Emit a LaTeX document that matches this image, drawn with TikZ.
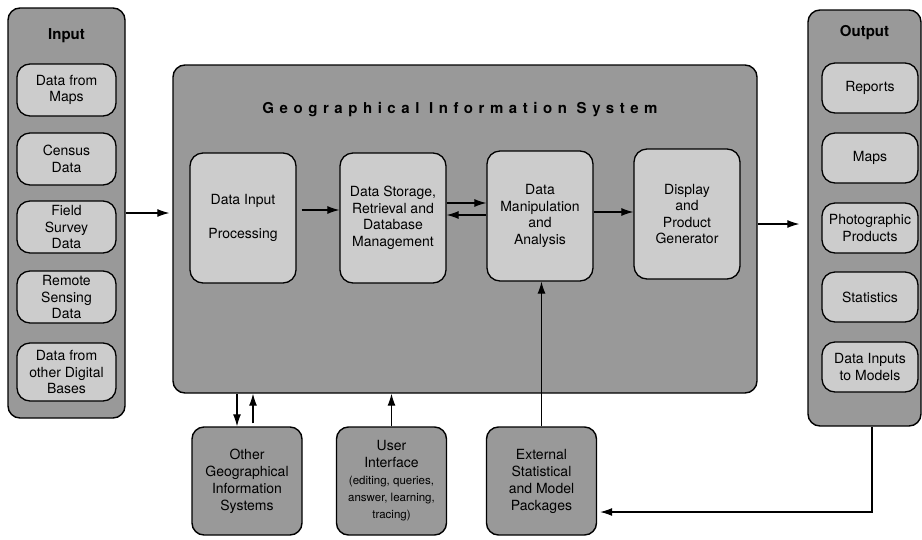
\documentclass[tikz,border=0pt]{standalone}
\usepackage{fontspec}
\setmainfont{TeX Gyre Heros}
\newfontfamily\spacedfont[LetterSpace=37]{TeX Gyre Heros}
\usetikzlibrary{arrows.meta}
\definecolor{darkfill}{gray}{0.60}
\definecolor{lightfill}{gray}{0.80}
\newcommand\notefont{\fontsize{11.5}{14}\selectfont}

\begin{document}
\begin{tikzpicture}[x=1pt,y=-1pt,
    frame/.style={draw,line width=1.4pt,rounded corners=12pt,fill=darkfill,inner sep=0pt},
    item/.style={draw,line width=1.3pt,rounded corners=13pt,fill=lightfill,align=center,
                 inner sep=0pt,font=\fontsize{14}{16.5}\selectfont},
    stage/.style={item,minimum width=106pt,minimum height=130pt},
    side/.style={frame,align=center,font=\fontsize{14}{17}\selectfont,
                 minimum width=110pt,minimum height=108pt},
    heading/.style={font=\fontsize{15}{18}\selectfont\bfseries},
    flow/.style={line width=1.1pt,-{Latex[length=12pt,width=8pt]}}]
\useasboundingbox (0,0) rectangle (922,539);

% input column
\node[frame,minimum width=117pt,minimum height=410pt] (input) at (66.5,213) {};
\node[heading] (intitle) at (66.5,36) {Input};
\node[item,minimum width=99pt,minimum height=52pt] (inmaps) at (66.5,90) {Data from\\Maps};
\node[item,minimum width=99pt,minimum height=52pt] (census) at (66.5,159) {Census\\Data};
\node[item,minimum width=99pt,minimum height=52pt] (survey) at (66.5,227) {Field\\Survey\\Data};
\node[item,minimum width=99pt,minimum height=52pt] (remote) at (66.5,297) {Remote\\Sensing\\Data};
\node[item,minimum width=99pt,minimum height=58pt] (digital) at (66.5,372) {Data from\\other Digital\\Bases};

% the system
\node[frame,minimum width=584pt,minimum height=328pt] (gis) at (465,229) {};
\node[font=\fontsize{15}{18}\spacedfont\bfseries] (gistitle) at (460,110) {Geographical Information System};
\node[stage] (proc) at (243,218) {Data Input\\[17pt]Processing};
\node[stage] (store) at (393,218) {Data Storage,\\Retrieval and\\Database\\Management};
\node[stage] (manip) at (540,216) {Data\\Manipulation\\and\\Analysis};
\node[stage] (disp) at (687,214) {Display\\and\\Product\\Generator};

% output column
\node[frame,minimum width=113pt,minimum height=416pt] (output) at (864.5,218) {};
\node[heading] (outtitle) at (864.5,33) {Output};
\node[item,minimum width=96pt,minimum height=50pt] (reports) at (870,88) {Reports};
\node[item,minimum width=96pt,minimum height=50pt] (outmaps) at (870,158) {Maps};
\node[item,minimum width=96pt,minimum height=50pt] (photo) at (870,228) {Photographic\\Products};
\node[item,minimum width=96pt,minimum height=50pt] (stats) at (870,297) {Statistics};
\node[item,minimum width=96pt,minimum height=50pt] (models) at (870,367) {Data Inputs\\to Models};

% below the system
\node[side] (other) at (247,481) {Other\\Geographical\\Information\\Systems};
\node[side] (ui) at (391.5,481) {User\\Interface\\{\notefont (editing, queries,}\\{\notefont answer, learning,}\\{\notefont tracing)}};
\node[side] (ext) at (541.5,481) {External\\Statistical\\and Model\\Packages};

% connectors
\draw[flow,shorten >=3pt] (input.east) -- (input.east -| gis.west);
\draw[flow,shorten <=5pt] ([yshift=8pt]proc.east) -- ([yshift=8pt]proc.east -| store.west);
\draw[flow] ([yshift=15pt]store.east) -- ([yshift=15pt]store.east -| manip.west);
\draw[flow] ([yshift=1pt]manip.west) -- ([yshift=1pt]manip.west -| store.east);
\draw[flow] ([yshift=4pt]manip.east) -- ([yshift=4pt]manip.east -| disp.west);
\draw[flow,shorten >=8pt] ([yshift=5pt]gis.east) -- ([yshift=5pt]gis.east -| output.west);
\draw[flow] ([xshift=-10pt]other.north |- gis.south) -- ([xshift=-10pt]other.north);
\draw[flow,shorten <=3pt] ([xshift=6pt]other.north) -- ([xshift=6pt]other.north |- gis.south);
\draw[flow] (ui.north) -- (ui.north |- gis.south);
\draw[flow] (ext.north) -- (ext.north |- manip.south);
\draw[flow,shorten >=3pt] ([xshift=7.5pt]output.south) |- ([yshift=-31pt]ext.east);
\end{tikzpicture}
\end{document}
